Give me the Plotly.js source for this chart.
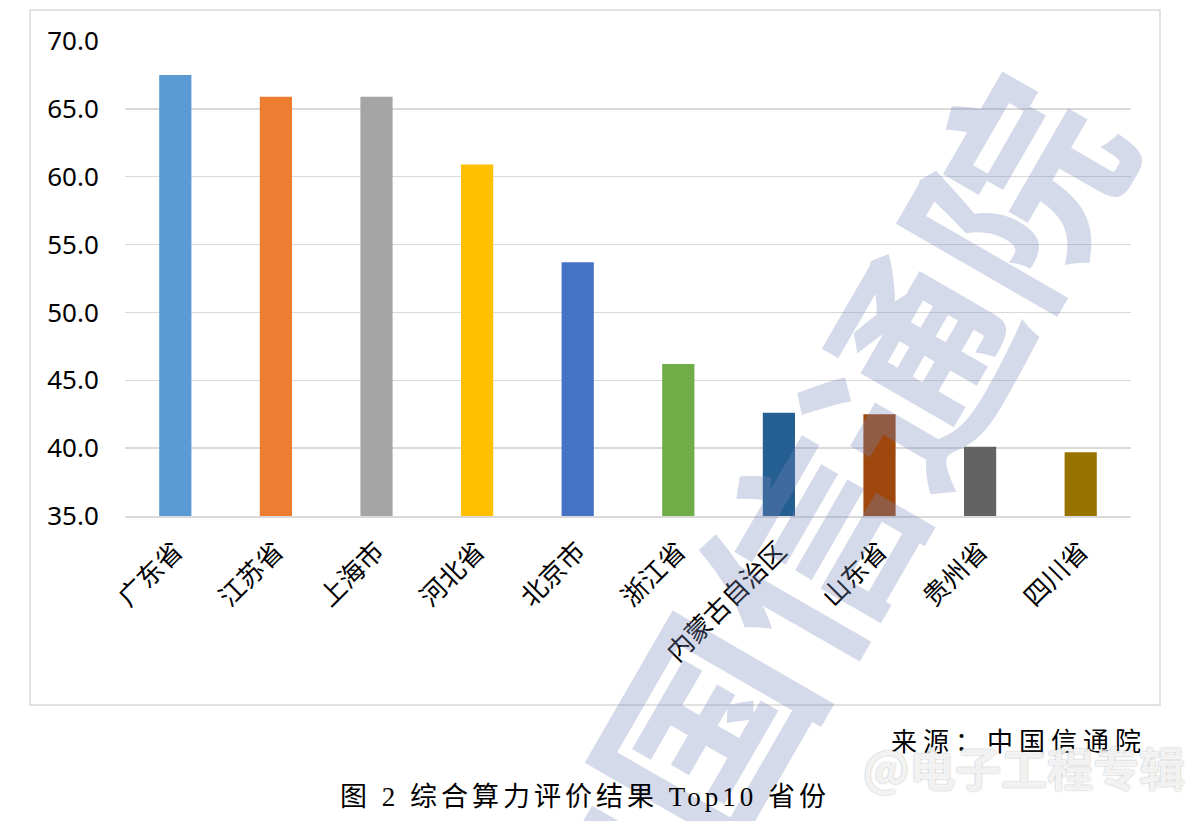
<!DOCTYPE html>
<html>
<head>
<meta charset="utf-8">
<script src="https://cdn.plot.ly/plotly-3.0.1.min.js"></script>
<style>html,body{margin:0;padding:0;background:#fff;}#chart{width:1200px;height:821px;}</style>
</head>
<body>
<div id="chart"></div>
<script>
// Data
const provinces = ["广东省", "江苏省", "上海市", "河北省", "北京市", "浙江省", "内蒙古自治区", "山东省", "贵州省", "四川省"];
const scores = [67.5, 65.9, 65.9, 60.9, 53.7, 46.2, 42.6, 42.5, 40.1, 39.7];
const barColors = ["#5B9BD5", "#ED7D31", "#A5A5A5", "#FFC000", "#4472C4", "#70AD47", "#255E91", "#9E480E", "#636363", "#997300"];
const yTickVals = [35, 40, 45, 50, 55, 60, 65, 70];

const W = 1200, H = 821;
const px = x => x / W;
const py = y => 1 - y / H;

const trace = {
  type: "bar",
  x: provinces,
  y: scores,
  marker: { color: barColors, line: { width: 0 } },
  hoverinfo: "x+y"
};

const layout = {
  width: W, height: H,
  margin: { l: 0, r: 0, t: 0, b: 0 },
  paper_bgcolor: "#ffffff",
  plot_bgcolor: "rgba(0,0,0,0)",
  showlegend: false,
  bargap: 0.68,
  xaxis: {
    domain: [px(125), px(1131)],
    type: "category",
    tickangle: -45,
    tickfont: { family: "Noto Sans CJK SC, Noto Sans, sans-serif", size: 26, color: "#000" },
    ticks: "outside", ticklen: 8, tickcolor: "rgba(0,0,0,0)",
    showgrid: false, zeroline: false,
    showline: true, linecolor: "#d9d9d9", linewidth: 1.5
  },
  yaxis: {
    domain: [py(516), py(41)],
    range: [35, 70],
    tickvals: yTickVals,
    tickformat: ".1f",
    tickfont: { family: "Noto Sans, Open Sans, sans-serif", size: 26, color: "#000" },
    ticks: "outside", ticklen: 20, tickcolor: "rgba(0,0,0,0)",
    showgrid: true, gridcolor: "#d9d9d9", gridwidth: 1.5,
    zeroline: false, showline: false
  },
  shapes: [
    { type: "rect", xref: "paper", yref: "paper",
      x0: px(30), x1: px(1160), y0: py(705), y1: py(10),
      line: { color: "#d9d9d9", width: 1.5 }, fillcolor: "rgba(0,0,0,0)", layer: "below" }
  ],
  annotations: [
    { text: "中国信通院", xref: "paper", yref: "paper", x: px(800), y: py(545),
      xanchor: "center", yanchor: "middle", showarrow: false, textangle: -60,
      font: { family: "Noto Sans CJK SC", size: 208, weight: 700, color: "rgba(120,135,188,0.31)" } },
    { text: "来源：中国信通院", xref: "paper", yref: "paper", x: px(913), y: py(742),
      xanchor: "left", yanchor: "middle", showarrow: false,
      font: { family: "Liberation Serif, Noto Sans CJK SC", size: 26, color: "#000" } },
    { text: "@电子工程专辑", xref: "paper", yref: "paper", x: px(1187), y: py(766),
      xanchor: "right", yanchor: "middle", showarrow: false,
      font: { family: "Noto Sans CJK SC", size: 46, weight: 700, color: "rgba(255,255,255,0.85)",
              shadow: "0px 0px 2px rgba(110,110,110,0.7)" } },
    { text: "图 2 综合算力评价结果 Top10 省份", xref: "paper", yref: "paper", x: px(380), y: py(797),
      xanchor: "left", yanchor: "middle", showarrow: false,
      font: { family: "Liberation Serif, Noto Sans CJK SC", size: 27, color: "#000" } }
  ]
};

Plotly.newPlot("chart", [trace], layout, { displayModeBar: false, staticPlot: true }).then(() => {
  const texts = document.querySelectorAll(".annotation-text");
  texts.forEach(t => {
    const s = t.textContent;
    if (s === "来源：中国信通院") t.style.letterSpacing = "6px";
    if (s.indexOf("Top10") >= 0) t.style.letterSpacing = "4px";
  });
});
</script>
</body>
</html>
